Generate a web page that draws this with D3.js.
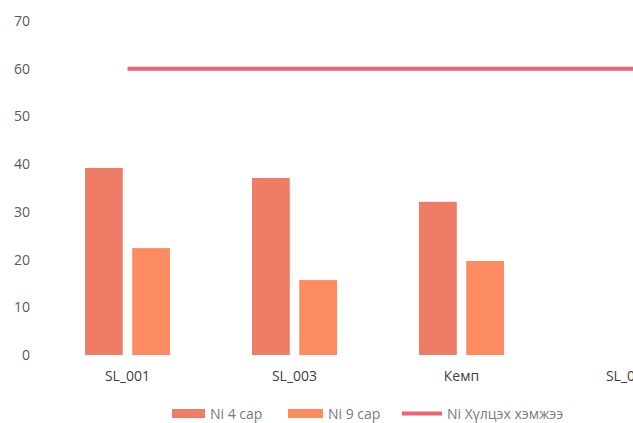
<!DOCTYPE html>
<html>
<head>
<meta charset="utf-8">
<script src="https://cdn.jsdelivr.net/npm/d3@7"></script>
<style>
  html, body { margin: 0; padding: 0; background: #fff; overflow: hidden; }
  svg { display: block; font-family: "Open Sans", "Liberation Sans", sans-serif; }
</style>
</head>
<body>
<svg id="chart" width="633" height="423"></svg>
<script>
const categories = ["SL_001", "SL_003", "Кемп", "SL_004"];
const ni4 = [39.2, 37.1, 32.1, null];
const ni9 = [22.4, 15.7, 19.7, null];
const limit = [60, 60, 60, 60];
const yTicks = [0, 10, 20, 30, 40, 50, 60, 70];
const seriesNames = ["Ni 4 сар", "Ni 9 сар", "Ni Хүлцэх хэмжээ"];
const colors = ["#EF7C67", "#FD8B62", "#F0626F"];

const svg = d3.select("#chart");
const y = d3.scaleLinear().domain([0, 70]).range([355, 21]);
const x = d3.scaleBand().domain(categories).range([44, 44 + 167 * categories.length]);
const inner = d3.scaleBand().domain([0, 1]).range([41, 126]).paddingInner(0.2);

// y axis labels
const yAxis = d3.axisLeft(y).tickValues(yTicks).tickSize(0).tickPadding(0);
const gy = svg.append("g").attr("transform", "translate(30,0)").call(yAxis);
gy.select(".domain").remove();
gy.selectAll("text").attr("fill", "#595959").style("font-size", "14px")
  .style("font-family", "'Open Sans', sans-serif");

// x axis labels
const xAxis = d3.axisBottom(x).tickSize(0).tickPadding(0);
const gx = svg.append("g").attr("transform", "translate(0,371)").call(xAxis);
gx.select(".domain").remove();
gx.selectAll("text").attr("fill", "#404040").style("font-size", "14px")
  .style("font-family", "'Open Sans', sans-serif");

// bars
[ni4, ni9].forEach((vals, si) => {
  svg.append("g").selectAll("rect")
    .data(categories.map((c, i) => ({c, v: vals[i]})).filter(d => d.v != null))
    .join("rect")
    .attr("x", d => x(d.c) + inner(si))
    .attr("width", inner.bandwidth())
    .attr("y", d => y(d.v))
    .attr("height", d => y(0) - y(d.v))
    .attr("fill", colors[si]);
});

// limit line (continues past the right edge)
const line = d3.line()
  .x((d, i) => x(categories[i]) + x.bandwidth() / 2)
  .y(d => y(d));
svg.append("path").datum(limit.concat([limit[limit.length - 1]]))
  .attr("d", d3.line()
    .x((d, i) => i < categories.length ? x(categories[i]) + x.bandwidth() / 2 : x.range()[1] + 100)
    .y(d => y(d)))
  .attr("fill", "none").attr("stroke", colors[2]).attr("stroke-width", 4);

// legend
const leg = svg.append("g").style("font-size", "14px").attr("fill", "#7a7a7a");
const legX = [172, 288, 402];
const swW = [33, 35, 40];
seriesNames.forEach((name, i) => {
  if (i < 2) {
    leg.append("rect").attr("x", legX[i]).attr("y", 409).attr("width", swW[i]).attr("height", 9)
      .attr("fill", colors[i]);
  } else {
    leg.append("line").attr("x1", legX[i]).attr("x2", legX[i] + swW[i])
      .attr("y1", 413.5).attr("y2", 413.5).attr("stroke", colors[i]).attr("stroke-width", 4);
  }
  leg.append("text").attr("x", legX[i] + swW[i] + 5).attr("y", 419).text(name);
});
</script>
</body>
</html>
